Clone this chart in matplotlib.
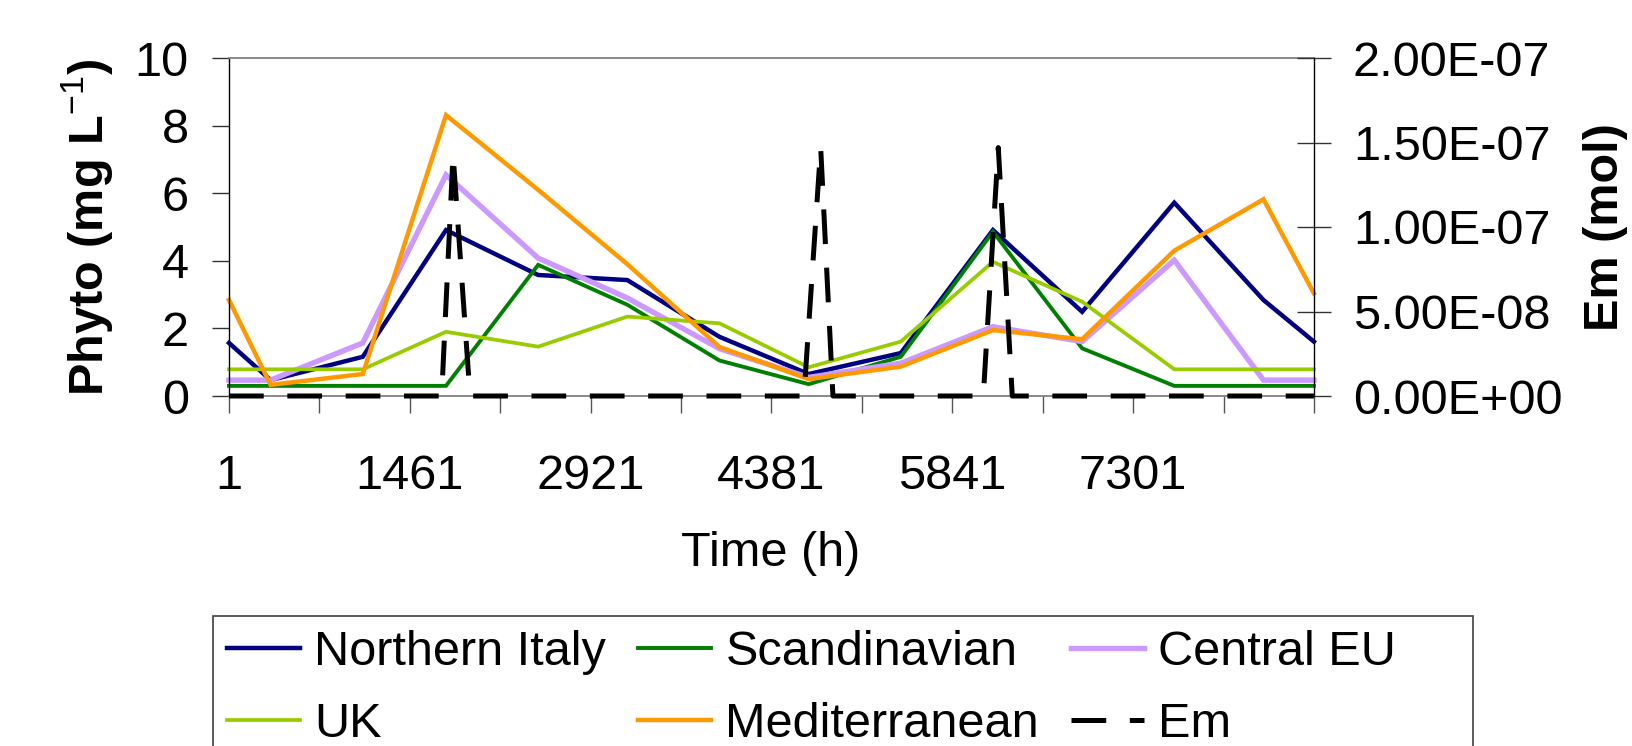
import matplotlib
matplotlib.use("Agg")
import matplotlib.pyplot as plt
from matplotlib.patches import Rectangle

plt.rcParams['font.family'] = ['Liberation Sans', 'DejaVu Sans']
plt.rcParams['mathtext.fontset'] = 'custom'
plt.rcParams['mathtext.rm'] = 'Liberation Sans'
plt.rcParams['mathtext.bf'] = 'Liberation Sans:bold'
plt.rcParams['lines.scale_dashes'] = False

# ---------------- data ----------------
time_h = [1, 337, 1081, 1753, 2497, 3217, 3961, 4681, 5425, 6169, 6889, 7633, 8353, 8760]
northern_italy = [1.57, 0.47, 1.16, 4.91, 3.58, 3.43, 1.75, 0.65, 1.27, 4.91, 2.49, 5.72, 2.84, 1.61]
scandinavian = [0.30, 0.30, 0.30, 0.30, 3.88, 2.70, 1.05, 0.35, 1.16, 4.86, 1.41, 0.30, 0.30, 0.30]
central_eu = [0.47, 0.47, 1.57, 6.54, 4.08, 2.90, 1.40, 0.55, 0.97, 2.05, 1.61, 4.02, 0.47, 0.47]
uk = [0.79, 0.79, 0.79, 1.90, 1.46, 2.35, 2.15, 0.85, 1.61, 3.97, 2.79, 0.79, 0.79, 0.79]
mediterranean = [2.84, 0.33, 0.65, 8.31, 6.10, 3.90, 1.45, 0.50, 0.87, 1.95, 1.68, 4.30, 5.82, 3.04]

em_time = [1, 1718, 1810, 1947, 4643, 4778, 4877, 6091, 6212, 6325, 8760]
em_mol = [0, 0, 1.43e-7, 0, 0, 1.47e-7, 0, 0, 1.47e-7, 0, 0]

series_names = ["Northern Italy", "Scandinavian", "Central EU", "UK", "Mediterranean", "Em"]

x_ticks = [1, 731, 1461, 2191, 2921, 3651, 4381, 5111, 5841, 6571, 7301, 8031, 8761]
x_tick_labels = ["1", "", "1461", "", "2921", "", "4381", "", "5841", "", "7301", "", ""]
y_ticks = [0, 2, 4, 6, 8, 10]
y_tick_labels = ["0", "2", "4", "6", "8", "10"]
y2_ticks = [0, 5e-8, 1e-7, 1.5e-7, 2e-7]
y2_tick_labels = ["0.00E+00", "5.00E-08", "1.00E-07", "1.50E-07", "2.00E-07"]

# ---------------- figure ----------------
W, H = 1633, 746
FS = 35
fig = plt.figure(figsize=(W / 100, H / 100), dpi=100)
ax_left, ax_right, ax_top, ax_bot = 229, 1314, 58, 396
ax = fig.add_axes([ax_left / W, 1 - ax_bot / H, (ax_right - ax_left) / W, (ax_bot - ax_top) / H])
ax2 = ax.twinx()

colors = ["#000080", "#008000", "#CC99FF", "#99CC00", "#FF9900"]
widths = [3.2, 2.8, 3.9, 2.7, 3.2]
series = [northern_italy, scandinavian, central_eu, uk, mediterranean]
lines = []
for vals, c, lw, name in zip(series, colors, widths, series_names[:5]):
    ln, = ax.plot(time_h, vals, color=c, lw=lw, label=name, clip_on=False,
                  solid_joinstyle='miter')
    lines.append(ln)

em_line, = ax2.plot(em_time, em_mol, color='black', lw=3.6, label=series_names[5],
                    clip_on=False, dashes=(25, 17))

ax.set_xlim(1, 8761)
ax.set_ylim(0, 10)
ax2.set_ylim(0, 2e-7)

ax.set_xticks(x_ticks)
ax.set_xticklabels(x_tick_labels)
ax.set_yticks(y_ticks)
ax.set_yticklabels(y_tick_labels)
ax2.set_yticks(y2_ticks)
ax2.set_yticklabels(y2_tick_labels)

ax.tick_params(axis='x', direction='out', length=12, width=1, color='#555555',
               pad=30, labelsize=FS)
ax.tick_params(axis='y', direction='out', length=12, width=1, color='#333333',
               pad=17, labelsize=FS)
ax2.tick_params(axis='y', direction='inout', length=24, width=1, color='#333333',
                pad=16, labelsize=FS)

ax.spines['right'].set_visible(False)
ax.spines['left'].set_color('#000000')
ax.spines['left'].set_linewidth(1.0)
ax.spines['bottom'].set_color('#808080')
ax.spines['bottom'].set_linewidth(1.3)
ax.spines['top'].set_color('#808080')
ax.spines['top'].set_linewidth(1.3)
for s in ['left', 'top', 'bottom']:
    ax2.spines[s].set_visible(False)
ax2.spines['right'].set_color('#000000')
ax2.spines['right'].set_linewidth(1.0)

# axis titles
fig.text(87 / W, 1 - 227 / H, "Phyto (mg L$^{-1}$)", rotation=90, ha='center', va='center',
         fontsize=FS, fontweight='bold')
fig.text(1606 / W, 1 - 227 / H, "Em (mol)", rotation=90, ha='center', va='center',
         fontsize=FS, fontweight='bold')
fig.text(771 / W, 1 - 554 / H, "Time (h)", ha='center', va='center', fontsize=FS)

# legend frame
fig.add_artist(Rectangle((213 / W, 1 - 780 / H), (1473 - 213) / W, (780 - 616) / H,
                         transform=fig.transFigure, fill=False, edgecolor='#404040',
                         lw=1.2, clip_on=False))

order = [0, 3, 1, 4, 2]
handles = [lines[i] for i in order] + [em_line]
labels = [series_names[i] for i in order] + [series_names[5]]
leg = fig.legend(handles, labels, ncol=3, loc='upper left',
                 bbox_to_anchor=(227 / W, 1 - 630 / H), bbox_transform=fig.transFigure,
                 frameon=False, borderpad=0, borderaxespad=0, handlelength=1.5,
                 handletextpad=0.3, columnspacing=0.65, labelspacing=0.55, fontsize=FS)

fig.savefig("out.png", dpi=100)
